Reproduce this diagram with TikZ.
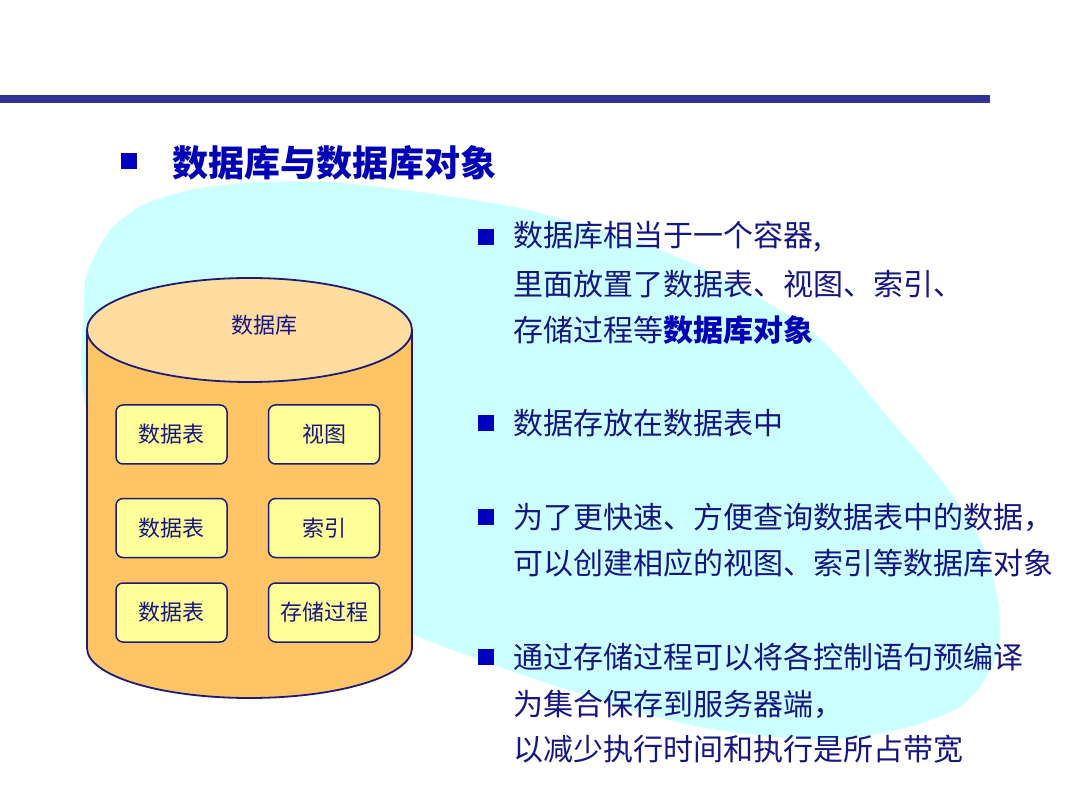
\documentclass[tikz,border=0pt]{standalone}
\usepackage{fontspec}
\newfontfamily\cjk{Noto Sans CJK SC}
\definecolor{barblue}{RGB}{51,51,145}
\definecolor{cyanbg}{RGB}{204,255,255}
\definecolor{navy}{RGB}{28,28,120}
\definecolor{txt}{RGB}{22,22,130}
\definecolor{ttl}{RGB}{0,0,180}
\definecolor{bul}{RGB}{0,0,190}
\definecolor{body}{RGB}{255,196,102}
\definecolor{topc}{RGB}{255,220,160}
\definecolor{boxc}{RGB}{255,255,153}
\tikzset{
  objbox/.style={draw=navy,line width=1.5pt,fill=boxc,rounded corners=7pt,minimum width=111pt,minimum height=59pt,inner sep=0pt,font=\cjk\fontsize{22}{24}\selectfont,text=txt},
  sqbul/.style={fill=bul,minimum size=16pt,inner sep=0pt},
  line/.style={anchor=west,inner sep=0pt,font=\cjk\fontsize{30}{32}\selectfont,text=txt},
}
\begin{document}
\begin{tikzpicture}[x=1pt,y=1pt]
\useasboundingbox (0,0) rectangle (1080,-810);
\fill[white] (0,0) rectangle (1080,-810);
% top bar
\fill[barblue] (0,-95) rectangle (990,-103);
% cyan blob
\fill[cyanbg] plot[smooth cycle] coordinates {
 (84,-300) (92,-262) (112,-228) (145,-204) (195,-189) (260,-182) (340,-183) (440,-195) (540,-213)
 (680,-258) (810,-330) (890,-420) (945,-485) (980,-540) (998,-600) (997,-655) (965,-703)
 (905,-728) (820,-740) (700,-727) (600,-700) (500,-667) (410,-633) (250,-560) (95,-430)};
% title
\node[sqbul] (tb) at (128.5,-161.5) {};
\node[anchor=west,inner sep=0pt,font=\cjk\bfseries\fontsize{36}{38}\selectfont,text=ttl] (title) at (172,-163) {数据库与数据库对象};
% cylinder
\path[fill=body,draw=navy,line width=1.8pt] (87,-330) -- (87,-648) arc[start angle=180,end angle=360,x radius=162.5,y radius=50] -- (412,-330) -- cycle;
\draw[fill=topc,draw=navy,line width=1.8pt] (249.5,-330) ellipse[x radius=162.5,y radius=52];
\node[inner sep=0pt,font=\cjk\fontsize{22}{24}\selectfont,text=txt] (db) at (264,-325) {数据库};
\node[objbox] (t1) at (171.5,-434.5) {数据表};
\node[objbox] (v) at (324,-434.5) {视图};
\node[objbox] (t2) at (171.5,-528) {数据表};
\node[objbox] (ix) at (324,-528) {\raisebox{-4pt}{索引}};
\node[objbox] (t3) at (171.5,-612.5) {数据表};
\node[objbox] (sp) at (324,-612.5) {存储过程};
% right text
\node[sqbul] (b1) at (486,-237) {};
\node[line] (l1) at (513,-237) {数据库相当于一个容器,};
\node[line] (l2) at (513,-284) {里面放置了数据表、视图、索引、};
\node[line] (l3) at (513,-330) {存储过程等{\bfseries\color{ttl}数据库对象}};
\node[sqbul] (b2) at (486,-423) {};
\node[line] (l4) at (513,-423) {数据存放在数据表中};
\node[sqbul] (b3) at (486,-517) {};
\node[line] (l5) at (513,-517) {为了更快速、方便查询数据表中的数据，};
\node[line] (l6) at (513,-563) {可以创建相应的视图、索引等数据库对象};
\node[sqbul] (b4) at (486,-657) {};
\node[line] (l7) at (513,-657) {通过存储过程可以将各控制语句预编译};
\node[line] (l8) at (513,-704) {为集合保存到服务器端，};
\node[line] (l9) at (513,-749) {以减少执行时间和执行是所占带宽};
\end{tikzpicture}
\end{document}
